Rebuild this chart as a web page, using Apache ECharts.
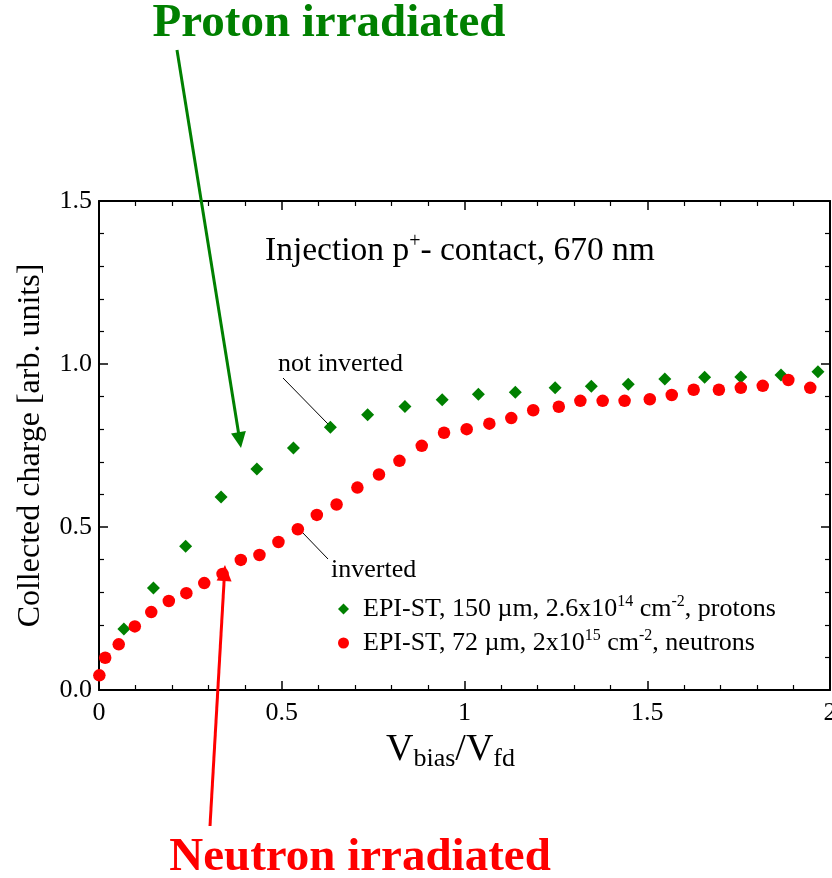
<!DOCTYPE html>
<html>
<head>
<meta charset="utf-8">
<script src="https://cdn.jsdelivr.net/npm/echarts@6/dist/echarts.min.js"></script>
<style>html,body{margin:0;padding:0;background:#fff}#c{width:832px;height:878px}</style>
</head>
<body>
<div id="c"></div>
<script>
// ---- data ----
const protonX = [0.068,0.149,0.237,0.334,0.432,0.532,0.633,0.735,0.837,0.939,1.038,1.139,1.248,1.347,1.448,1.548,1.657,1.756,1.866,1.967];
const protonY = [0.187,0.313,0.441,0.592,0.678,0.742,0.806,0.844,0.870,0.890,0.907,0.913,0.927,0.932,0.938,0.954,0.959,0.960,0.966,0.976];
const neutronX = [0.001,0.017,0.054,0.098,0.143,0.191,0.239,0.288,0.338,0.388,0.439,0.491,0.544,0.596,0.650,0.707,0.766,0.822,0.883,0.944,1.006,1.068,1.128,1.188,1.258,1.317,1.378,1.438,1.507,1.567,1.627,1.696,1.756,1.816,1.886,1.946];
const neutronY = [0.045,0.099,0.140,0.195,0.239,0.273,0.297,0.328,0.356,0.399,0.414,0.454,0.493,0.537,0.569,0.621,0.661,0.703,0.749,0.789,0.800,0.817,0.834,0.858,0.869,0.887,0.887,0.887,0.892,0.905,0.921,0.921,0.927,0.933,0.951,0.927];
const xTicks = [0, 0.5, 1, 1.5, 2];
const yTicks = [0.0, 0.5, 1.0, 1.5];
const seriesNames = ['protons', 'neutrons'];

const FONT = 'Liberation Serif';
const GREEN = '#008000';
const RED = '#ff0000';

const chart = echarts.init(document.getElementById('c'), null, {renderer: 'canvas'});

function zip(xs, ys) { return xs.map((x, i) => [x, ys[i]]); }

function arrow(x1, y1, x2, y2, color, hl, hw) {
  const dx = x2 - x1, dy = y2 - y1, L = Math.hypot(dx, dy);
  const ux = dx / L, uy = dy / L;
  const bx = x2 - ux * hl, by = y2 - uy * hl;
  const px = -uy * hw, py = ux * hw;
  return [
    {type: 'line', shape: {x1: x1, y1: y1, x2: bx + ux * 2, y2: by + uy * 2}, style: {stroke: color, lineWidth: 3}, z: 100},
    {type: 'polygon', shape: {points: [[x2, y2], [bx + px, by + py], [bx - px, by - py]]}, style: {fill: color}, z: 100}
  ];
}

const tickStyle = {color: '#000', width: 1.5};
function axisCommon(extra) {
  return Object.assign({
    axisLine: {show: true, onZero: false, lineStyle: {color: '#000', width: 2}},
    axisTick: {show: true, inside: true, length: 9, lineStyle: tickStyle},
    minorTick: {show: true, splitNumber: 5, length: 5, lineStyle: {color: '#000', width: 1.2}},
    splitLine: {show: false},
    minorSplitLine: {show: false}
  }, extra);
}

const legendRich = {
  n: {fontFamily: FONT, fontSize: 26, color: '#000', lineHeight: 30},
  sup: {fontFamily: FONT, fontSize: 16, color: '#000', verticalAlign: 'top', lineHeight: 16}
};
const legendLabels = {
  protons: '{n|EPI-ST, 150 \u00b5m, 2.6x10}{sup|14}{n| cm}{sup|-2}{n|, protons}',
  neutrons: '{n|EPI-ST, 72 \u00b5m, 2x10}{sup|15}{n| cm}{sup|-2}{n|, neutrons}'
};

const option = {
  backgroundColor: '#fff',
  animation: false,
  grid: {left: 99, right: 2, top: 201, bottom: 188, containLabel: false, outerBoundsMode: 'none'},
  xAxis: [
    axisCommon({
      type: 'value', min: 0, max: 2, interval: 0.5, position: 'bottom',
      axisLabel: {show: true, margin: 10, fontFamily: FONT, fontSize: 26, color: '#000',
        formatter: v => (xTicks.indexOf(v) >= 0 ? String(v) : '')},
      name: '{v|V}{s|bias}{v|/V}{s|fd}',
      nameLocation: 'middle', nameGap: 30,
      nameTextStyle: {padding: [0, 28, 0, 0], rich: {
        v: {fontFamily: FONT, fontSize: 38, color: '#000', lineHeight: 44},
        s: {fontFamily: FONT, fontSize: 26, color: '#000', verticalAlign: 'bottom', lineHeight: 32}
      }}
    }),
    axisCommon({type: 'value', min: 0, max: 2, interval: 0.5, position: 'top', axisLabel: {show: false}})
  ],
  yAxis: [
    axisCommon({
      type: 'value', min: 0, max: 1.5, interval: 0.5, position: 'left',
      axisLabel: {show: true, margin: 7, fontFamily: FONT, fontSize: 26, color: '#000',
        formatter: v => (yTicks.indexOf(v) >= 0 ? v.toFixed(1) : '')},
      name: 'Collected charge [arb. units]',
      nameLocation: 'middle', nameGap: 52, nameRotate: 90,
      nameTextStyle: {fontFamily: FONT, fontSize: 32, color: '#000'}
    }),
    axisCommon({type: 'value', min: 0, max: 1.5, interval: 0.5, position: 'right', axisLabel: {show: false}})
  ],
  legend: {
    orient: 'vertical', left: 333, top: 589, itemWidth: 11, itemHeight: 11, itemGap: 6,
    data: seriesNames,
    formatter: name => legendLabels[name],
    textStyle: {fontFamily: FONT, fontSize: 26, color: '#000', rich: legendRich, padding: [0, 0, 0, 9]}
  },
  series: [
    {name: seriesNames[0], type: 'scatter', symbol: 'diamond', symbolSize: 13, symbolKeepAspect: true,
      itemStyle: {color: GREEN, opacity: 1}, data: zip(protonX, protonY), z: 3},
    {name: seriesNames[1], type: 'scatter', symbol: 'circle', symbolSize: 12.5, symbolKeepAspect: true,
      itemStyle: {color: RED, opacity: 1}, data: zip(neutronX, neutronY), z: 4}
  ],
  graphic: [
    {type: 'text', x: 329, y: 24, style: {text: 'Proton irradiated', font: 'bold 47px "Liberation Serif"', fill: GREEN, align: 'center', verticalAlign: 'middle'}},
    {type: 'text', x: 360, y: 858, style: {text: 'Neutron irradiated', font: 'bold 47px "Liberation Serif"', fill: RED, align: 'center', verticalAlign: 'middle'}},
    {type: 'text', x: 265, y: 251, style: {
      text: '{m|Injection p}{p|+}{m|- contact, 670 nm}', align: 'left', verticalAlign: 'middle',
      rich: {m: {fontFamily: FONT, fontSize: 33.5, fill: '#000', lineHeight: 38},
             p: {fontFamily: FONT, fontSize: 20, fill: '#000', verticalAlign: 'top', lineHeight: 20}}}},
    {type: 'text', x: 278, y: 364, style: {text: 'not inverted', font: '26px "Liberation Serif"', fill: '#000', align: 'left', verticalAlign: 'middle'}},
    {type: 'text', x: 331, y: 570, style: {text: 'inverted', font: '26px "Liberation Serif"', fill: '#000', align: 'left', verticalAlign: 'middle'}},
    {type: 'line', shape: {x1: 283, y1: 378, x2: 328, y2: 424}, style: {stroke: '#000', lineWidth: 1}},
    {type: 'line', shape: {x1: 302, y1: 532, x2: 328, y2: 559}, style: {stroke: '#000', lineWidth: 1}}
  ].concat(arrow(177, 50, 241, 448, GREEN, 16, 7.5), arrow(210, 826, 225, 565, RED, 16, 7.5))
};

chart.setOption(option);
</script>
</body>
</html>
